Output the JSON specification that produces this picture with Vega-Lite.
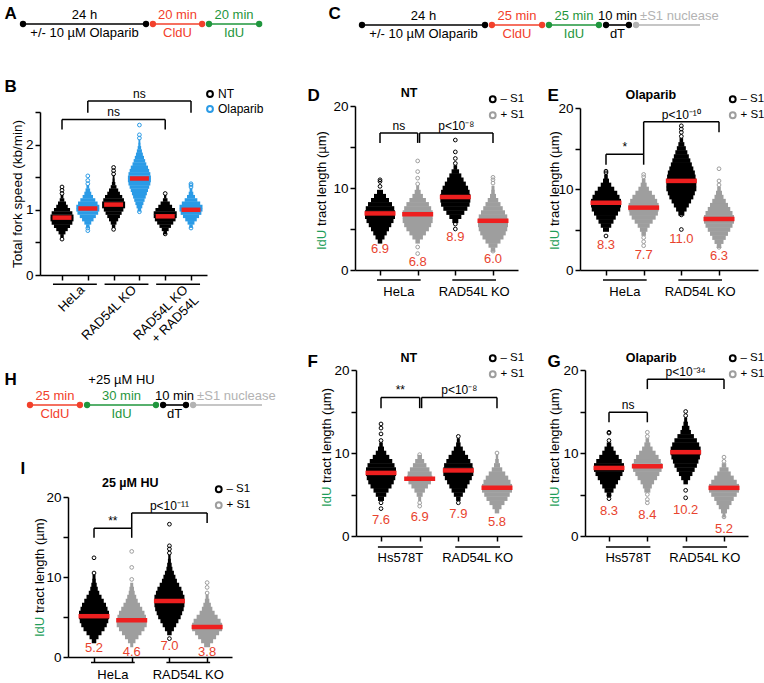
{
"$schema":"https://vega.github.io/schema/vega-lite/v6.json",
"width":764,"height":683,
"autosize":{"type":"none"},
"padding":0,
"config":{
 "view":{"stroke":null},
 "font":"Liberation Sans",
 "axis":{"domainColor":"#000","domainWidth":1.5,"tickColor":"#000","tickWidth":1.5,"tickSize":5,"labelColor":"#000","labelFontSize":13.5,"labelFont":"Liberation Sans","titleFont":"Liberation Sans","titleColor":"#000","grid":false,"labelPadding":2},
 "legend":{"labelFont":"Liberation Sans","labelFontSize":11.5,"labelColor":"#000","symbolType":"circle","symbolSize":34,"symbolStrokeWidth":2,"rowPadding":1,"padding":0,"labelOffset":2},
 "text":{"font":"Liberation Sans"}
},
"datasets":{
"sc":[
{"p":"A","x1":0,"x2":5,"c":"k","top":"24 h","bot":"+/- 10 µM Olaparib"},
{"p":"A","x1":5.28,"x2":7.28,"c":"r","top":"20 min","bot":"CldU"},
{"p":"A","x1":7.56,"x2":9.6,"c":"g","top":"20 min","bot":"IdU"},
{"p":"C","x1":0,"x2":5,"c":"k","top":"24 h","bot":"+/- 10 µM Olaparib"},
{"p":"C","x1":5.28,"x2":7.32,"c":"r","top":"25 min","bot":"CldU"},
{"p":"C","x1":7.6,"x2":9.63,"c":"g","top":"25 min","bot":"IdU"},
{"p":"C","x1":9.92,"x2":10.85,"c":"k","top":"10 min","bot":"dT"},
{"p":"C","x1":11.14,"x2":13.74,"c":"s","top":"±S1 nuclease","bot":""},
{"p":"H","x1":0,"x2":2.03,"c":"r","top":"25 min","bot":"CldU"},
{"p":"H","x1":2.32,"x2":5.12,"c":"g","top":"30 min","bot":"IdU","hu":"+25 µM HU"},
{"p":"H","x1":5.41,"x2":6.34,"c":"k","top":"10 min","bot":"dT"},
{"p":"H","x1":6.63,"x2":9.43,"c":"s","top":"±S1 nuclease","bot":""}
],
"sw":[
{"p":"B","x":1,"s":"a","y":0.6,"n":0.15},{"p":"B","x":1,"s":"a","y":0.65,"n":0.3},{"p":"B","x":1,"s":"a","y":0.7,"n":0.5},{"p":"B","x":1,"s":"a","y":0.75,"n":0.7},{"p":"B","x":1,"s":"a","y":0.8,"n":0.9},{"p":"B","x":1,"s":"a","y":0.85,"n":1},{"p":"B","x":1,"s":"a","y":0.9,"n":1},{"p":"B","x":1,"s":"a","y":0.95,"n":0.9},{"p":"B","x":1,"s":"a","y":1.0,"n":0.7},{"p":"B","x":1,"s":"a","y":1.05,"n":0.5},{"p":"B","x":1,"s":"a","y":1.1,"n":0.35},{"p":"B","x":1,"s":"a","y":1.15,"n":0.2},{"p":"B","x":1,"s":"a","y":1.2,"n":0.12},
{"p":"B","x":2,"s":"b","y":0.75,"n":0.15},{"p":"B","x":2,"s":"b","y":0.8,"n":0.3},{"p":"B","x":2,"s":"b","y":0.85,"n":0.5},{"p":"B","x":2,"s":"b","y":0.9,"n":0.7},{"p":"B","x":2,"s":"b","y":0.95,"n":0.9},{"p":"B","x":2,"s":"b","y":1.0,"n":1},{"p":"B","x":2,"s":"b","y":1.05,"n":1},{"p":"B","x":2,"s":"b","y":1.1,"n":0.85},{"p":"B","x":2,"s":"b","y":1.15,"n":0.65},{"p":"B","x":2,"s":"b","y":1.2,"n":0.45},{"p":"B","x":2,"s":"b","y":1.25,"n":0.3},{"p":"B","x":2,"s":"b","y":1.3,"n":0.2},{"p":"B","x":2,"s":"b","y":1.35,"n":0.12},
{"p":"B","x":3,"s":"a","y":0.75,"n":0.15},{"p":"B","x":3,"s":"a","y":0.8,"n":0.25},{"p":"B","x":3,"s":"a","y":0.85,"n":0.4},{"p":"B","x":3,"s":"a","y":0.9,"n":0.55},{"p":"B","x":3,"s":"a","y":0.95,"n":0.7},{"p":"B","x":3,"s":"a","y":1.0,"n":0.85},{"p":"B","x":3,"s":"a","y":1.05,"n":1},{"p":"B","x":3,"s":"a","y":1.1,"n":1},{"p":"B","x":3,"s":"a","y":1.15,"n":0.9},{"p":"B","x":3,"s":"a","y":1.2,"n":0.75},{"p":"B","x":3,"s":"a","y":1.25,"n":0.55},{"p":"B","x":3,"s":"a","y":1.3,"n":0.4},{"p":"B","x":3,"s":"a","y":1.35,"n":0.25},{"p":"B","x":3,"s":"a","y":1.4,"n":0.15},{"p":"B","x":3,"s":"a","y":1.45,"n":0.1},{"p":"B","x":3,"s":"a","y":1.5,"n":0.08},
{"p":"B","x":4,"s":"b","y":1.0,"n":0.15},{"p":"B","x":4,"s":"b","y":1.05,"n":0.25},{"p":"B","x":4,"s":"b","y":1.1,"n":0.35},{"p":"B","x":4,"s":"b","y":1.15,"n":0.45},{"p":"B","x":4,"s":"b","y":1.2,"n":0.55},{"p":"B","x":4,"s":"b","y":1.25,"n":0.65},{"p":"B","x":4,"s":"b","y":1.3,"n":0.75},{"p":"B","x":4,"s":"b","y":1.35,"n":0.85},{"p":"B","x":4,"s":"b","y":1.4,"n":0.95},{"p":"B","x":4,"s":"b","y":1.45,"n":1},{"p":"B","x":4,"s":"b","y":1.5,"n":1},{"p":"B","x":4,"s":"b","y":1.55,"n":0.95},{"p":"B","x":4,"s":"b","y":1.6,"n":0.85},{"p":"B","x":4,"s":"b","y":1.65,"n":0.75},{"p":"B","x":4,"s":"b","y":1.7,"n":0.6},{"p":"B","x":4,"s":"b","y":1.75,"n":0.5},{"p":"B","x":4,"s":"b","y":1.8,"n":0.4},{"p":"B","x":4,"s":"b","y":1.85,"n":0.3},{"p":"B","x":4,"s":"b","y":1.9,"n":0.22},{"p":"B","x":4,"s":"b","y":1.95,"n":0.15},{"p":"B","x":4,"s":"b","y":2.0,"n":0.1},{"p":"B","x":4,"s":"b","y":2.05,"n":0.08},
{"p":"B","x":5,"s":"a","y":0.65,"n":0.15},{"p":"B","x":5,"s":"a","y":0.7,"n":0.3},{"p":"B","x":5,"s":"a","y":0.75,"n":0.5},{"p":"B","x":5,"s":"a","y":0.8,"n":0.7},{"p":"B","x":5,"s":"a","y":0.85,"n":0.9},{"p":"B","x":5,"s":"a","y":0.9,"n":1},{"p":"B","x":5,"s":"a","y":0.95,"n":1},{"p":"B","x":5,"s":"a","y":1.0,"n":0.85},{"p":"B","x":5,"s":"a","y":1.05,"n":0.6},{"p":"B","x":5,"s":"a","y":1.1,"n":0.4},{"p":"B","x":5,"s":"a","y":1.15,"n":0.2},{"p":"B","x":5,"s":"a","y":1.2,"n":0.1},
{"p":"B","x":6,"s":"b","y":0.75,"n":0.15},{"p":"B","x":6,"s":"b","y":0.8,"n":0.3},{"p":"B","x":6,"s":"b","y":0.85,"n":0.5},{"p":"B","x":6,"s":"b","y":0.9,"n":0.7},{"p":"B","x":6,"s":"b","y":0.95,"n":0.9},{"p":"B","x":6,"s":"b","y":1.0,"n":1},{"p":"B","x":6,"s":"b","y":1.05,"n":1},{"p":"B","x":6,"s":"b","y":1.1,"n":0.8},{"p":"B","x":6,"s":"b","y":1.15,"n":0.55},{"p":"B","x":6,"s":"b","y":1.2,"n":0.35},{"p":"B","x":6,"s":"b","y":1.25,"n":0.2},{"p":"B","x":6,"s":"b","y":1.3,"n":0.12},
{"p":"D","x":1,"s":"a","y":3.5,"n":0.15},{"p":"D","x":1,"s":"a","y":4,"n":0.3},{"p":"D","x":1,"s":"a","y":4.5,"n":0.45},{"p":"D","x":1,"s":"a","y":5,"n":0.6},{"p":"D","x":1,"s":"a","y":5.5,"n":0.75},{"p":"D","x":1,"s":"a","y":6,"n":0.9},{"p":"D","x":1,"s":"a","y":6.5,"n":1},{"p":"D","x":1,"s":"a","y":7,"n":1},{"p":"D","x":1,"s":"a","y":7.5,"n":0.95},{"p":"D","x":1,"s":"a","y":8,"n":0.8},{"p":"D","x":1,"s":"a","y":8.5,"n":0.6},{"p":"D","x":1,"s":"a","y":9,"n":0.4},{"p":"D","x":1,"s":"a","y":9.5,"n":0.2},
{"p":"D","x":2,"s":"b","y":3.5,"n":0.15},{"p":"D","x":2,"s":"b","y":4,"n":0.35},{"p":"D","x":2,"s":"b","y":4.5,"n":0.55},{"p":"D","x":2,"s":"b","y":5,"n":0.75},{"p":"D","x":2,"s":"b","y":5.5,"n":0.9},{"p":"D","x":2,"s":"b","y":6,"n":1},{"p":"D","x":2,"s":"b","y":6.5,"n":1},{"p":"D","x":2,"s":"b","y":7,"n":1},{"p":"D","x":2,"s":"b","y":7.5,"n":0.9},{"p":"D","x":2,"s":"b","y":8,"n":0.75},{"p":"D","x":2,"s":"b","y":8.5,"n":0.55},{"p":"D","x":2,"s":"b","y":9,"n":0.35},{"p":"D","x":2,"s":"b","y":9.5,"n":0.2},{"p":"D","x":2,"s":"b","y":10,"n":0.1},
{"p":"D","x":3,"s":"a","y":6,"n":0.2},{"p":"D","x":3,"s":"a","y":6.5,"n":0.4},{"p":"D","x":3,"s":"a","y":7,"n":0.6},{"p":"D","x":3,"s":"a","y":7.5,"n":0.8},{"p":"D","x":3,"s":"a","y":8,"n":0.95},{"p":"D","x":3,"s":"a","y":8.5,"n":1},{"p":"D","x":3,"s":"a","y":9,"n":1},{"p":"D","x":3,"s":"a","y":9.5,"n":0.95},{"p":"D","x":3,"s":"a","y":10,"n":0.85},{"p":"D","x":3,"s":"a","y":10.5,"n":0.7},{"p":"D","x":3,"s":"a","y":11,"n":0.55},{"p":"D","x":3,"s":"a","y":11.5,"n":0.4},{"p":"D","x":3,"s":"a","y":12,"n":0.25},{"p":"D","x":3,"s":"a","y":12.5,"n":0.12},
{"p":"D","x":4,"s":"b","y":2.5,"n":0.15},{"p":"D","x":4,"s":"b","y":3,"n":0.3},{"p":"D","x":4,"s":"b","y":3.5,"n":0.5},{"p":"D","x":4,"s":"b","y":4,"n":0.7},{"p":"D","x":4,"s":"b","y":4.5,"n":0.85},{"p":"D","x":4,"s":"b","y":5,"n":0.95},{"p":"D","x":4,"s":"b","y":5.5,"n":1},{"p":"D","x":4,"s":"b","y":6,"n":1},{"p":"D","x":4,"s":"b","y":6.5,"n":0.95},{"p":"D","x":4,"s":"b","y":7,"n":0.8},{"p":"D","x":4,"s":"b","y":7.5,"n":0.65},{"p":"D","x":4,"s":"b","y":8,"n":0.5},{"p":"D","x":4,"s":"b","y":8.5,"n":0.35},{"p":"D","x":4,"s":"b","y":9,"n":0.2},{"p":"D","x":4,"s":"b","y":9.5,"n":0.12},{"p":"D","x":4,"s":"b","y":10,"n":0.1},
{"p":"E","x":1,"s":"a","y":5,"n":0.2},{"p":"E","x":1,"s":"a","y":5.5,"n":0.35},{"p":"E","x":1,"s":"a","y":6,"n":0.5},{"p":"E","x":1,"s":"a","y":6.5,"n":0.65},{"p":"E","x":1,"s":"a","y":7,"n":0.8},{"p":"E","x":1,"s":"a","y":7.5,"n":0.95},{"p":"E","x":1,"s":"a","y":8,"n":1},{"p":"E","x":1,"s":"a","y":8.5,"n":1},{"p":"E","x":1,"s":"a","y":9,"n":0.9},{"p":"E","x":1,"s":"a","y":9.5,"n":0.75},{"p":"E","x":1,"s":"a","y":10,"n":0.55},{"p":"E","x":1,"s":"a","y":10.5,"n":0.35},{"p":"E","x":1,"s":"a","y":11,"n":0.2},{"p":"E","x":1,"s":"a","y":11.5,"n":0.12},
{"p":"E","x":2,"s":"b","y":4.5,"n":0.15},{"p":"E","x":2,"s":"b","y":5,"n":0.25},{"p":"E","x":2,"s":"b","y":5.5,"n":0.4},{"p":"E","x":2,"s":"b","y":6,"n":0.6},{"p":"E","x":2,"s":"b","y":6.5,"n":0.8},{"p":"E","x":2,"s":"b","y":7,"n":0.95},{"p":"E","x":2,"s":"b","y":7.5,"n":1},{"p":"E","x":2,"s":"b","y":8,"n":1},{"p":"E","x":2,"s":"b","y":8.5,"n":0.9},{"p":"E","x":2,"s":"b","y":9,"n":0.75},{"p":"E","x":2,"s":"b","y":9.5,"n":0.55},{"p":"E","x":2,"s":"b","y":10,"n":0.35},{"p":"E","x":2,"s":"b","y":10.5,"n":0.2},{"p":"E","x":2,"s":"b","y":11,"n":0.12},
{"p":"E","x":3,"s":"a","y":7,"n":0.2},{"p":"E","x":3,"s":"a","y":7.5,"n":0.35},{"p":"E","x":3,"s":"a","y":8,"n":0.5},{"p":"E","x":3,"s":"a","y":8.5,"n":0.65},{"p":"E","x":3,"s":"a","y":9,"n":0.8},{"p":"E","x":3,"s":"a","y":9.5,"n":0.9},{"p":"E","x":3,"s":"a","y":10,"n":1},{"p":"E","x":3,"s":"a","y":10.5,"n":1},{"p":"E","x":3,"s":"a","y":11,"n":1},{"p":"E","x":3,"s":"a","y":11.5,"n":0.95},{"p":"E","x":3,"s":"a","y":12,"n":0.9},{"p":"E","x":3,"s":"a","y":12.5,"n":0.8},{"p":"E","x":3,"s":"a","y":13,"n":0.7},{"p":"E","x":3,"s":"a","y":13.5,"n":0.6},{"p":"E","x":3,"s":"a","y":14,"n":0.5},{"p":"E","x":3,"s":"a","y":14.5,"n":0.4},{"p":"E","x":3,"s":"a","y":15,"n":0.3},{"p":"E","x":3,"s":"a","y":15.5,"n":0.2},{"p":"E","x":3,"s":"a","y":16,"n":0.12},
{"p":"E","x":4,"s":"b","y":3,"n":0.15},{"p":"E","x":4,"s":"b","y":3.5,"n":0.3},{"p":"E","x":4,"s":"b","y":4,"n":0.45},{"p":"E","x":4,"s":"b","y":4.5,"n":0.6},{"p":"E","x":4,"s":"b","y":5,"n":0.75},{"p":"E","x":4,"s":"b","y":5.5,"n":0.9},{"p":"E","x":4,"s":"b","y":6,"n":1},{"p":"E","x":4,"s":"b","y":6.5,"n":1},{"p":"E","x":4,"s":"b","y":7,"n":0.9},{"p":"E","x":4,"s":"b","y":7.5,"n":0.75},{"p":"E","x":4,"s":"b","y":8,"n":0.6},{"p":"E","x":4,"s":"b","y":8.5,"n":0.45},{"p":"E","x":4,"s":"b","y":9,"n":0.3},{"p":"E","x":4,"s":"b","y":9.5,"n":0.2},{"p":"E","x":4,"s":"b","y":10,"n":0.12},
{"p":"F","x":1,"s":"a","y":4.5,"n":0.2},{"p":"F","x":1,"s":"a","y":5,"n":0.35},{"p":"F","x":1,"s":"a","y":5.5,"n":0.5},{"p":"F","x":1,"s":"a","y":6,"n":0.7},{"p":"F","x":1,"s":"a","y":6.5,"n":0.85},{"p":"F","x":1,"s":"a","y":7,"n":0.95},{"p":"F","x":1,"s":"a","y":7.5,"n":1},{"p":"F","x":1,"s":"a","y":8,"n":1},{"p":"F","x":1,"s":"a","y":8.5,"n":0.9},{"p":"F","x":1,"s":"a","y":9,"n":0.75},{"p":"F","x":1,"s":"a","y":9.5,"n":0.55},{"p":"F","x":1,"s":"a","y":10,"n":0.35},{"p":"F","x":1,"s":"a","y":10.5,"n":0.2},{"p":"F","x":1,"s":"a","y":11,"n":0.12},
{"p":"F","x":2,"s":"b","y":4.5,"n":0.1},{"p":"F","x":2,"s":"b","y":5,"n":0.2},{"p":"F","x":2,"s":"b","y":5.5,"n":0.35},{"p":"F","x":2,"s":"b","y":6,"n":0.55},{"p":"F","x":2,"s":"b","y":6.5,"n":0.75},{"p":"F","x":2,"s":"b","y":7,"n":0.85},{"p":"F","x":2,"s":"b","y":7.5,"n":0.8},{"p":"F","x":2,"s":"b","y":8,"n":0.65},{"p":"F","x":2,"s":"b","y":8.5,"n":0.45},{"p":"F","x":2,"s":"b","y":9,"n":0.3},{"p":"F","x":2,"s":"b","y":9.5,"n":0.15},
{"p":"F","x":3,"s":"a","y":4.5,"n":0.15},{"p":"F","x":3,"s":"a","y":5,"n":0.3},{"p":"F","x":3,"s":"a","y":5.5,"n":0.45},{"p":"F","x":3,"s":"a","y":6,"n":0.6},{"p":"F","x":3,"s":"a","y":6.5,"n":0.75},{"p":"F","x":3,"s":"a","y":7,"n":0.9},{"p":"F","x":3,"s":"a","y":7.5,"n":1},{"p":"F","x":3,"s":"a","y":8,"n":1},{"p":"F","x":3,"s":"a","y":8.5,"n":0.95},{"p":"F","x":3,"s":"a","y":9,"n":0.8},{"p":"F","x":3,"s":"a","y":9.5,"n":0.65},{"p":"F","x":3,"s":"a","y":10,"n":0.45},{"p":"F","x":3,"s":"a","y":10.5,"n":0.3},{"p":"F","x":3,"s":"a","y":11,"n":0.15},{"p":"F","x":3,"s":"a","y":11.5,"n":0.1},
{"p":"F","x":4,"s":"b","y":3,"n":0.15},{"p":"F","x":4,"s":"b","y":3.5,"n":0.3},{"p":"F","x":4,"s":"b","y":4,"n":0.5},{"p":"F","x":4,"s":"b","y":4.5,"n":0.7},{"p":"F","x":4,"s":"b","y":5,"n":0.85},{"p":"F","x":4,"s":"b","y":5.5,"n":1},{"p":"F","x":4,"s":"b","y":6,"n":1},{"p":"F","x":4,"s":"b","y":6.5,"n":0.9},{"p":"F","x":4,"s":"b","y":7,"n":0.75},{"p":"F","x":4,"s":"b","y":7.5,"n":0.55},{"p":"F","x":4,"s":"b","y":8,"n":0.35},{"p":"F","x":4,"s":"b","y":8.5,"n":0.2},{"p":"F","x":4,"s":"b","y":9,"n":0.12},{"p":"F","x":4,"s":"b","y":9.5,"n":0.08},
{"p":"G","x":1,"s":"a","y":5,"n":0.15},{"p":"G","x":1,"s":"a","y":5.5,"n":0.3},{"p":"G","x":1,"s":"a","y":6,"n":0.45},{"p":"G","x":1,"s":"a","y":6.5,"n":0.6},{"p":"G","x":1,"s":"a","y":7,"n":0.75},{"p":"G","x":1,"s":"a","y":7.5,"n":0.9},{"p":"G","x":1,"s":"a","y":8,"n":1},{"p":"G","x":1,"s":"a","y":8.5,"n":1},{"p":"G","x":1,"s":"a","y":9,"n":0.85},{"p":"G","x":1,"s":"a","y":9.5,"n":0.65},{"p":"G","x":1,"s":"a","y":10,"n":0.45},{"p":"G","x":1,"s":"a","y":10.5,"n":0.3},{"p":"G","x":1,"s":"a","y":11,"n":0.15},
{"p":"G","x":2,"s":"b","y":5.5,"n":0.2},{"p":"G","x":2,"s":"b","y":6,"n":0.3},{"p":"G","x":2,"s":"b","y":6.5,"n":0.45},{"p":"G","x":2,"s":"b","y":7,"n":0.65},{"p":"G","x":2,"s":"b","y":7.5,"n":0.8},{"p":"G","x":2,"s":"b","y":8,"n":0.95},{"p":"G","x":2,"s":"b","y":8.5,"n":1},{"p":"G","x":2,"s":"b","y":9,"n":0.9},{"p":"G","x":2,"s":"b","y":9.5,"n":0.75},{"p":"G","x":2,"s":"b","y":10,"n":0.55},{"p":"G","x":2,"s":"b","y":10.5,"n":0.35},{"p":"G","x":2,"s":"b","y":11,"n":0.2},{"p":"G","x":2,"s":"b","y":11.5,"n":0.12},
{"p":"G","x":3,"s":"a","y":6.5,"n":0.15},{"p":"G","x":3,"s":"a","y":7,"n":0.3},{"p":"G","x":3,"s":"a","y":7.5,"n":0.45},{"p":"G","x":3,"s":"a","y":8,"n":0.6},{"p":"G","x":3,"s":"a","y":8.5,"n":0.75},{"p":"G","x":3,"s":"a","y":9,"n":0.85},{"p":"G","x":3,"s":"a","y":9.5,"n":0.95},{"p":"G","x":3,"s":"a","y":10,"n":1},{"p":"G","x":3,"s":"a","y":10.5,"n":1},{"p":"G","x":3,"s":"a","y":11,"n":0.9},{"p":"G","x":3,"s":"a","y":11.5,"n":0.75},{"p":"G","x":3,"s":"a","y":12,"n":0.55},{"p":"G","x":3,"s":"a","y":12.5,"n":0.35},{"p":"G","x":3,"s":"a","y":13,"n":0.25},{"p":"G","x":3,"s":"a","y":13.5,"n":0.15},{"p":"G","x":3,"s":"a","y":14,"n":0.1},
{"p":"G","x":4,"s":"b","y":2.5,"n":0.1},{"p":"G","x":4,"s":"b","y":3,"n":0.2},{"p":"G","x":4,"s":"b","y":3.5,"n":0.35},{"p":"G","x":4,"s":"b","y":4,"n":0.5},{"p":"G","x":4,"s":"b","y":4.5,"n":0.65},{"p":"G","x":4,"s":"b","y":5,"n":0.85},{"p":"G","x":4,"s":"b","y":5.5,"n":1},{"p":"G","x":4,"s":"b","y":6,"n":1},{"p":"G","x":4,"s":"b","y":6.5,"n":0.85},{"p":"G","x":4,"s":"b","y":7,"n":0.65},{"p":"G","x":4,"s":"b","y":7.5,"n":0.45},{"p":"G","x":4,"s":"b","y":8,"n":0.3},{"p":"G","x":4,"s":"b","y":8.5,"n":0.15},
{"p":"I","x":1,"s":"a","y":2,"n":0.15},{"p":"I","x":1,"s":"a","y":2.5,"n":0.3},{"p":"I","x":1,"s":"a","y":3,"n":0.5},{"p":"I","x":1,"s":"a","y":3.5,"n":0.7},{"p":"I","x":1,"s":"a","y":4,"n":0.85},{"p":"I","x":1,"s":"a","y":4.5,"n":0.95},{"p":"I","x":1,"s":"a","y":5,"n":1},{"p":"I","x":1,"s":"a","y":5.5,"n":1},{"p":"I","x":1,"s":"a","y":6,"n":0.9},{"p":"I","x":1,"s":"a","y":6.5,"n":0.8},{"p":"I","x":1,"s":"a","y":7,"n":0.65},{"p":"I","x":1,"s":"a","y":7.5,"n":0.5},{"p":"I","x":1,"s":"a","y":8,"n":0.35},{"p":"I","x":1,"s":"a","y":8.5,"n":0.25},{"p":"I","x":1,"s":"a","y":9,"n":0.18},{"p":"I","x":1,"s":"a","y":9.5,"n":0.12},{"p":"I","x":1,"s":"a","y":10,"n":0.1},
{"p":"I","x":2,"s":"b","y":1.5,"n":0.1},{"p":"I","x":2,"s":"b","y":2,"n":0.25},{"p":"I","x":2,"s":"b","y":2.5,"n":0.45},{"p":"I","x":2,"s":"b","y":3,"n":0.65},{"p":"I","x":2,"s":"b","y":3.5,"n":0.85},{"p":"I","x":2,"s":"b","y":4,"n":1},{"p":"I","x":2,"s":"b","y":4.5,"n":1},{"p":"I","x":2,"s":"b","y":5,"n":0.95},{"p":"I","x":2,"s":"b","y":5.5,"n":0.85},{"p":"I","x":2,"s":"b","y":6,"n":0.7},{"p":"I","x":2,"s":"b","y":6.5,"n":0.55},{"p":"I","x":2,"s":"b","y":7,"n":0.4},{"p":"I","x":2,"s":"b","y":7.5,"n":0.3},{"p":"I","x":2,"s":"b","y":8,"n":0.2},{"p":"I","x":2,"s":"b","y":8.5,"n":0.15},{"p":"I","x":2,"s":"b","y":9,"n":0.1},
{"p":"I","x":3,"s":"a","y":3,"n":0.15},{"p":"I","x":3,"s":"a","y":3.5,"n":0.3},{"p":"I","x":3,"s":"a","y":4,"n":0.45},{"p":"I","x":3,"s":"a","y":4.5,"n":0.6},{"p":"I","x":3,"s":"a","y":5,"n":0.75},{"p":"I","x":3,"s":"a","y":5.5,"n":0.85},{"p":"I","x":3,"s":"a","y":6,"n":0.95},{"p":"I","x":3,"s":"a","y":6.5,"n":1},{"p":"I","x":3,"s":"a","y":7,"n":1},{"p":"I","x":3,"s":"a","y":7.5,"n":1},{"p":"I","x":3,"s":"a","y":8,"n":0.9},{"p":"I","x":3,"s":"a","y":8.5,"n":0.8},{"p":"I","x":3,"s":"a","y":9,"n":0.65},{"p":"I","x":3,"s":"a","y":9.5,"n":0.5},{"p":"I","x":3,"s":"a","y":10,"n":0.4},{"p":"I","x":3,"s":"a","y":10.5,"n":0.3},{"p":"I","x":3,"s":"a","y":11,"n":0.2},{"p":"I","x":3,"s":"a","y":11.5,"n":0.15},{"p":"I","x":3,"s":"a","y":12,"n":0.1},{"p":"I","x":3,"s":"a","y":12.5,"n":0.08},
{"p":"I","x":4,"s":"b","y":1.5,"n":0.2},{"p":"I","x":4,"s":"b","y":2,"n":0.4},{"p":"I","x":4,"s":"b","y":2.5,"n":0.6},{"p":"I","x":4,"s":"b","y":3,"n":0.8},{"p":"I","x":4,"s":"b","y":3.5,"n":1},{"p":"I","x":4,"s":"b","y":4,"n":1},{"p":"I","x":4,"s":"b","y":4.5,"n":0.9},{"p":"I","x":4,"s":"b","y":5,"n":0.7},{"p":"I","x":4,"s":"b","y":5.5,"n":0.5},{"p":"I","x":4,"s":"b","y":6,"n":0.35},{"p":"I","x":4,"s":"b","y":6.5,"n":0.25},{"p":"I","x":4,"s":"b","y":7,"n":0.15},{"p":"I","x":4,"s":"b","y":7.5,"n":0.1}
],
"pt":[
{"p":"B","x":1,"s":"a","y":0.55},{"p":"B","x":1,"s":"a","y":1.25},{"p":"B","x":1,"s":"a","y":1.3},{"p":"B","x":1,"s":"a","y":1.35},
{"p":"B","x":2,"s":"b","y":0.68},{"p":"B","x":2,"s":"b","y":0.72},{"p":"B","x":2,"s":"b","y":1.4},{"p":"B","x":2,"s":"b","y":1.45},{"p":"B","x":2,"s":"b","y":1.52},
{"p":"B","x":3,"s":"a","y":0.7},{"p":"B","x":3,"s":"a","y":1.55},{"p":"B","x":3,"s":"a","y":1.6},{"p":"B","x":3,"s":"a","y":1.65},
{"p":"B","x":4,"s":"b","y":0.97},{"p":"B","x":4,"s":"b","y":2.1},{"p":"B","x":4,"s":"b","y":2.15},{"p":"B","x":4,"s":"b","y":2.3},
{"p":"B","x":5,"s":"a","y":0.63},{"p":"B","x":5,"s":"a","y":1.25},
{"p":"B","x":6,"s":"b","y":0.72},{"p":"B","x":6,"s":"b","y":1.35},{"p":"B","x":6,"s":"b","y":1.38},{"p":"B","x":6,"s":"b","y":1.4},
{"p":"D","x":1,"s":"a","y":10.2},{"p":"D","x":1,"s":"a","y":10.8},{"p":"D","x":1,"s":"a","y":11.0},
{"p":"D","x":2,"s":"b","y":2.0},{"p":"D","x":2,"s":"b","y":2.8},{"p":"D","x":2,"s":"b","y":10.5},{"p":"D","x":2,"s":"b","y":11.2},{"p":"D","x":2,"s":"b","y":12.0},{"p":"D","x":2,"s":"b","y":13.3},
{"p":"D","x":3,"s":"a","y":5.0},{"p":"D","x":3,"s":"a","y":5.6},{"p":"D","x":3,"s":"a","y":13.0},{"p":"D","x":3,"s":"a","y":13.6},{"p":"D","x":3,"s":"a","y":14.4},{"p":"D","x":3,"s":"a","y":15.85},
{"p":"D","x":4,"s":"b","y":2.3},{"p":"D","x":4,"s":"b","y":10.6},{"p":"D","x":4,"s":"b","y":11.0},{"p":"D","x":4,"s":"b","y":11.3},
{"p":"E","x":1,"s":"a","y":4.2},{"p":"E","x":1,"s":"a","y":12.0},{"p":"E","x":1,"s":"a","y":12.2},
{"p":"E","x":2,"s":"b","y":3.0},{"p":"E","x":2,"s":"b","y":3.5},{"p":"E","x":2,"s":"b","y":4.0},{"p":"E","x":2,"s":"b","y":11.5},{"p":"E","x":2,"s":"b","y":11.8},
{"p":"E","x":3,"s":"a","y":5.0},{"p":"E","x":3,"s":"a","y":6.8},{"p":"E","x":3,"s":"a","y":16.5},{"p":"E","x":3,"s":"a","y":17.0},{"p":"E","x":3,"s":"a","y":17.4},{"p":"E","x":3,"s":"a","y":17.8},
{"p":"E","x":4,"s":"b","y":2.8},{"p":"E","x":4,"s":"b","y":10.5},{"p":"E","x":4,"s":"b","y":11.0},{"p":"E","x":4,"s":"b","y":12.5},
{"p":"F","x":1,"s":"a","y":3.3},{"p":"F","x":1,"s":"a","y":4.0},{"p":"F","x":1,"s":"a","y":11.5},{"p":"F","x":1,"s":"a","y":12.3},{"p":"F","x":1,"s":"a","y":13.0},{"p":"F","x":1,"s":"a","y":13.5},
{"p":"F","x":2,"s":"b","y":3.6},{"p":"F","x":2,"s":"b","y":4.0},{"p":"F","x":2,"s":"b","y":9.8},
{"p":"F","x":3,"s":"a","y":4.0},{"p":"F","x":3,"s":"a","y":12.0},
{"p":"F","x":4,"s":"b","y":10.0},
{"p":"G","x":1,"s":"a","y":4.5},{"p":"G","x":1,"s":"a","y":4.9},{"p":"G","x":1,"s":"a","y":11.5},{"p":"G","x":1,"s":"a","y":12.4},{"p":"G","x":1,"s":"a","y":12.5},
{"p":"G","x":2,"s":"b","y":4.0},{"p":"G","x":2,"s":"b","y":4.4},{"p":"G","x":2,"s":"b","y":5.0},{"p":"G","x":2,"s":"b","y":12.0},{"p":"G","x":2,"s":"b","y":12.5},
{"p":"G","x":3,"s":"a","y":4.6},{"p":"G","x":3,"s":"a","y":5.5},{"p":"G","x":3,"s":"a","y":14.5},{"p":"G","x":3,"s":"a","y":15.0},
{"p":"G","x":4,"s":"b","y":2.3},{"p":"G","x":4,"s":"b","y":9.0},{"p":"G","x":4,"s":"b","y":9.5},
{"p":"I","x":1,"s":"a","y":10.5},{"p":"I","x":1,"s":"a","y":12.4},
{"p":"I","x":2,"s":"b","y":9.7},{"p":"I","x":2,"s":"b","y":11.2},{"p":"I","x":2,"s":"b","y":13.2},
{"p":"I","x":3,"s":"a","y":2.3},{"p":"I","x":3,"s":"a","y":13.0},{"p":"I","x":3,"s":"a","y":13.5},{"p":"I","x":3,"s":"a","y":13.9},{"p":"I","x":3,"s":"a","y":16.6},
{"p":"I","x":4,"s":"b","y":8.0},{"p":"I","x":4,"s":"b","y":8.7},{"p":"I","x":4,"s":"b","y":9.3}
],
"md":[
{"p":"B","x":1,"m":0.88},{"p":"B","x":2,"m":1.02},{"p":"B","x":3,"m":1.08},{"p":"B","x":4,"m":1.48},{"p":"B","x":5,"m":0.9},{"p":"B","x":6,"m":1.0},
{"p":"D","x":1,"m":6.9,"lab":"6.9","lo":3.5},{"p":"D","x":2,"m":6.8,"lab":"6.8","lo":2.0},{"p":"D","x":3,"m":8.9,"lab":"8.9","lo":5.0},{"p":"D","x":4,"m":6.0,"lab":"6.0","lo":2.3},
{"p":"E","x":1,"m":8.3,"lab":"8.3","lo":4.2},{"p":"E","x":2,"m":7.7,"lab":"7.7","lo":3.0},{"p":"E","x":3,"m":11.0,"lab":"11.0","lo":5.0},{"p":"E","x":4,"m":6.3,"lab":"6.3","lo":2.8},
{"p":"F","x":1,"m":7.6,"lab":"7.6","lo":3.3},{"p":"F","x":2,"m":6.9,"lab":"6.9","lo":3.6},{"p":"F","x":3,"m":7.9,"lab":"7.9","lo":4.0},{"p":"F","x":4,"m":5.8,"lab":"5.8","lo":3.0},
{"p":"G","x":1,"m":8.2,"lab":"8.3","lo":4.5},{"p":"G","x":2,"m":8.4,"lab":"8.4","lo":4.0},{"p":"G","x":3,"m":10.1,"lab":"10.2","lo":4.6},{"p":"G","x":4,"m":5.8,"lab":"5.2","lo":2.3},
{"p":"I","x":1,"m":5.1,"lab":"5.2","lo":2.0},{"p":"I","x":2,"m":4.6,"lab":"4.6","lo":1.5},{"p":"I","x":3,"m":7.0,"lab":"7.0","lo":2.3},{"p":"I","x":4,"m":3.75,"lab":"3.8","lo":1.5}
],
"br":[
{"p":"B","x1":1,"x2":5,"y":2.385,"yl":2.23,"yr":2.23,"t":"ns"},
{"p":"B","x1":2,"x2":6,"y":2.67,"yl":2.49,"yr":2.49,"t":"ns"},
{"p":"D","x1":1,"x2":2,"y":16.7,"yl":15.5,"yr":15.5,"t":"ns"},
{"p":"D","x1":2.05,"x2":4,"y":16.7,"yl":15.5,"yr":15.5,"t":"p<10⁻⁸"},
{"p":"E","x1":1,"x2":2,"y":14.3,"yl":13,"yr":13,"t":"*"},
{"p":"E","x1":2,"x2":4,"y":18.3,"yl":14.3,"yr":17,"t":"p<10⁻¹⁰"},
{"p":"F","x1":1,"x2":2,"y":16.7,"yl":15.4,"yr":15.4,"t":"**"},
{"p":"F","x1":2.05,"x2":4,"y":16.7,"yl":15.4,"yr":15.4,"t":"p<10⁻⁸"},
{"p":"G","x1":1,"x2":2,"y":14.9,"yl":13.7,"yr":13.7,"t":"ns"},
{"p":"G","x1":2,"x2":4,"y":18.9,"yl":17.7,"yr":17.7,"t":"p<10⁻³⁴"},
{"p":"I","x1":1,"x2":2,"y":16.1,"yl":14.9,"yr":14.9,"t":"**"},
{"p":"I","x1":2,"x2":4,"y":18,"yl":16.1,"yr":16.75,"t":"p<10⁻¹¹"}
],
"gl":[
{"p":"B","x1":0.65,"x2":2.35,"t":"HeLa"},{"p":"B","x1":2.65,"x2":4.35,"t":"RAD54L KO"},{"p":"B","x1":4.65,"x2":6.35,"t":"RAD54L KO\n+ RAD54L"},
{"p":"D","x1":0.92,"x2":2.08,"t":"HeLa"},{"p":"D","x1":2.92,"x2":4.08,"t":"RAD54L KO"},
{"p":"E","x1":0.92,"x2":2.08,"t":"HeLa"},{"p":"E","x1":2.92,"x2":4.08,"t":"RAD54L KO"},
{"p":"F","x1":0.92,"x2":2.08,"t":"Hs578T"},{"p":"F","x1":2.92,"x2":4.08,"t":"RAD54L KO"},
{"p":"G","x1":0.92,"x2":2.08,"t":"Hs578T"},{"p":"G","x1":2.92,"x2":4.08,"t":"RAD54L KO"},
{"p":"I","x1":0.92,"x2":2.08,"t":"HeLa"},{"p":"I","x1":2.92,"x2":4.08,"t":"RAD54L KO"}
]
},
"resolve":{"scale":{"x":"independent","y":"independent","color":"independent","size":"independent"}},
"layer":[
{"layer":[
 {"data":{"name":"sc"},"transform":[{"filter":"datum.p=='A'"}],"mark":{"type":"rule","strokeWidth":1.6},
  "encoding":{"x":{"field":"x1","type":"quantitative","scale":{"domain":[0,10],"range":[23,269],"nice":false,"zero":false},"axis":{"orient":"bottom","offset":-650,"domain":false,"ticks":false,"labels":false,"title":"A","titleX":4,"titleY":-15,"titleAlign":"left","titleBaseline":"alphabetic","titleAngle":0,"titleFontSize":17,"titleFontWeight":"bold"}},
   "x2":{"field":"x2"},"y":{"datum":0.5,"type":"quantitative","scale":{"domain":[0,1],"range":[33,15],"nice":false,"zero":false},"axis":null},
   "color":{"field":"c","type":"nominal","scale":{"domain":["k","r","g","s"],"range":["#000000","#f2402b","#1f963d","#b3b3b3"]},"legend":null}}},
 {"data":{"name":"sc"},"transform":[{"filter":"datum.p=='A'"}],"mark":{"type":"point","filled":true,"size":40,"opacity":1},"encoding":{"x":{"field":"x1","type":"quantitative"},"y":{"datum":0.5},"color":{"field":"c","type":"nominal"}}},
 {"data":{"name":"sc"},"transform":[{"filter":"datum.p=='A' && datum.c!='s'"}],"mark":{"type":"point","filled":true,"size":40,"opacity":1},"encoding":{"x":{"field":"x2","type":"quantitative"},"y":{"datum":0.5},"color":{"field":"c","type":"nominal"}}},
 {"data":{"name":"sc"},"transform":[{"filter":"datum.p=='A' && datum.c!='s'"},{"calculate":"(datum.x1+datum.x2)/2","as":"xm"}],"mark":{"type":"text","fontSize":13,"baseline":"middle"},"encoding":{"x":{"field":"xm","type":"quantitative"},"y":{"datum":1},"text":{"field":"top"},"color":{"field":"c","type":"nominal"}}},
 {"data":{"name":"sc"},"transform":[{"filter":"datum.p=='A'"},{"calculate":"(datum.x1+datum.x2)/2","as":"xm"}],"mark":{"type":"text","fontSize":13,"baseline":"middle"},"encoding":{"x":{"field":"xm","type":"quantitative"},"y":{"datum":0},"text":{"field":"bot"},"color":{"field":"c","type":"nominal"}}}
]},
{"layer":[
 {"data":{"name":"sc"},"transform":[{"filter":"datum.p=='C'"}],"mark":{"type":"rule","strokeWidth":1.6},
  "encoding":{"x":{"field":"x1","type":"quantitative","scale":{"domain":[0,15],"range":[362,731],"nice":false,"zero":false},"axis":{"orient":"bottom","offset":-649,"domain":false,"ticks":false,"labels":false,"title":"C","titleX":328,"titleY":-16,"titleAlign":"left","titleBaseline":"alphabetic","titleAngle":0,"titleFontSize":17,"titleFontWeight":"bold"}},
   "x2":{"field":"x2"},"y":{"datum":0.5,"type":"quantitative","scale":{"domain":[0,1],"range":[34,16],"nice":false,"zero":false},"axis":null},
   "color":{"field":"c","type":"nominal","scale":{"domain":["k","r","g","s"],"range":["#000000","#f2402b","#1f963d","#b3b3b3"]},"legend":null}}},
 {"data":{"name":"sc"},"transform":[{"filter":"datum.p=='C'"}],"mark":{"type":"point","filled":true,"size":40,"opacity":1},"encoding":{"x":{"field":"x1","type":"quantitative"},"y":{"datum":0.5},"color":{"field":"c","type":"nominal"}}},
 {"data":{"name":"sc"},"transform":[{"filter":"datum.p=='C' && datum.c!='s'"}],"mark":{"type":"point","filled":true,"size":40,"opacity":1},"encoding":{"x":{"field":"x2","type":"quantitative"},"y":{"datum":0.5},"color":{"field":"c","type":"nominal"}}},
 {"data":{"name":"sc"},"transform":[{"filter":"datum.p=='C' && datum.c!='s'"},{"calculate":"(datum.x1+datum.x2)/2","as":"xm"}],"mark":{"type":"text","fontSize":13,"baseline":"middle"},"encoding":{"x":{"field":"xm","type":"quantitative"},"y":{"datum":1},"text":{"field":"top"},"color":{"field":"c","type":"nominal"}}},
 {"data":{"name":"sc"},"transform":[{"filter":"datum.p=='C' && datum.c=='s'"}],"mark":{"type":"text","fontSize":13,"baseline":"middle","align":"left","dx":4},"encoding":{"x":{"field":"x1","type":"quantitative"},"y":{"datum":1},"text":{"field":"top"},"color":{"field":"c","type":"nominal"}}},
 {"data":{"name":"sc"},"transform":[{"filter":"datum.p=='C'"},{"calculate":"(datum.x1+datum.x2)/2","as":"xm"}],"mark":{"type":"text","fontSize":13,"baseline":"middle"},"encoding":{"x":{"field":"xm","type":"quantitative"},"y":{"datum":0},"text":{"field":"bot"},"color":{"field":"c","type":"nominal"}}}
]},
{"layer":[
 {"data":{"name":"sc"},"transform":[{"filter":"datum.p=='H'"}],"mark":{"type":"rule","strokeWidth":1.6},
  "encoding":{"x":{"field":"x1","type":"quantitative","scale":{"domain":[0,10],"range":[30,276],"nice":false,"zero":false},"axis":{"orient":"bottom","offset":-269,"domain":false,"ticks":false,"labels":false,"title":"H","titleX":4,"titleY":-30,"titleAlign":"left","titleBaseline":"alphabetic","titleAngle":0,"titleFontSize":17,"titleFontWeight":"bold"}},
   "x2":{"field":"x2"},"y":{"datum":0.5,"type":"quantitative","scale":{"domain":[0,1],"range":[414,396],"nice":false,"zero":false},"axis":null},
   "color":{"field":"c","type":"nominal","scale":{"domain":["k","r","g","s"],"range":["#000000","#f2402b","#1f963d","#b3b3b3"]},"legend":null}}},
 {"data":{"name":"sc"},"transform":[{"filter":"datum.p=='H'"}],"mark":{"type":"point","filled":true,"size":40,"opacity":1},"encoding":{"x":{"field":"x1","type":"quantitative"},"y":{"datum":0.5},"color":{"field":"c","type":"nominal"}}},
 {"data":{"name":"sc"},"transform":[{"filter":"datum.p=='H' && datum.c!='s'"}],"mark":{"type":"point","filled":true,"size":40,"opacity":1},"encoding":{"x":{"field":"x2","type":"quantitative"},"y":{"datum":0.5},"color":{"field":"c","type":"nominal"}}},
 {"data":{"name":"sc"},"transform":[{"filter":"datum.p=='H' && datum.c!='s'"},{"calculate":"(datum.x1+datum.x2)/2","as":"xm"}],"mark":{"type":"text","fontSize":13,"baseline":"middle"},"encoding":{"x":{"field":"xm","type":"quantitative"},"y":{"datum":1},"text":{"field":"top"},"color":{"field":"c","type":"nominal"}}},
 {"data":{"name":"sc"},"transform":[{"filter":"datum.p=='H' && datum.c=='s'"}],"mark":{"type":"text","fontSize":13,"baseline":"middle","align":"left","dx":4},"encoding":{"x":{"field":"x1","type":"quantitative"},"y":{"datum":1},"text":{"field":"top"},"color":{"field":"c","type":"nominal"}}},
 {"data":{"name":"sc"},"transform":[{"filter":"datum.p=='H' && datum.hu"},{"calculate":"(datum.x1+datum.x2)/2","as":"xm"}],"mark":{"type":"text","fontSize":13,"baseline":"middle","color":"#000"},"encoding":{"x":{"field":"xm","type":"quantitative"},"y":{"datum":1.9},"text":{"field":"hu"}}},
 {"data":{"name":"sc"},"transform":[{"filter":"datum.p=='H'"},{"calculate":"(datum.x1+datum.x2)/2","as":"xm"}],"mark":{"type":"text","fontSize":13,"baseline":"middle"},"encoding":{"x":{"field":"xm","type":"quantitative"},"y":{"datum":0},"text":{"field":"bot"},"color":{"field":"c","type":"nominal"}}}
]},
{"layer":[
 {"data":{"name":"sw"},"transform":[{"filter":"datum.p=='B'"}],"mark":{"type":"tick","orient":"horizontal","thickness":3.6,"opacity":1},
  "encoding":{"x":{"field":"x","type":"quantitative","scale":{"domain":[0.147,6.62],"range":[40,207],"nice":false,"zero":false},"axis":{"orient":"bottom","offset":-408,"values":[1,2,3,4,5,6],"labels":false,"title":"B","titleX":4,"titleY":-184,"titleAlign":"left","titleBaseline":"alphabetic","titleAngle":0,"titleFontSize":17,"titleFontWeight":"bold"}},
   "y":{"field":"y","type":"quantitative","scale":{"domain":[0,2.5],"range":[275,112],"nice":false,"zero":false},"axis":{"orient":"left","offset":-40,"values":[0,0.5,1,1.5,2,2.5],"format":"~g","labelExpr":"datum.value % 1 == 0 ? datum.label : ''","title":"Total fork speed (kb/min)","titleX":-23,"titleY":193.5,"titleAngle":270,"titleAlign":"center","titleBaseline":"middle","titleFontSize":13.5,"titleFontWeight":"normal"}},
   "size":{"field":"n","type":"quantitative","scale":{"domain":[0,1],"range":[0,23]},"legend":null},
   "color":{"condition":{"test":"datum.s=='a'","value":"#000000"},"value":"#2b9be6"}}},
 {"data":{"name":"pt"},"transform":[{"filter":"datum.p=='B'"}],"mark":{"type":"point","filled":false,"size":14,"strokeWidth":1,"opacity":1},
  "encoding":{"x":{"field":"x","type":"quantitative"},"y":{"field":"y","type":"quantitative"},"color":{"field":"s","type":"nominal","scale":{"domain":["a","b"],"range":["#000000","#2b9be6"]},"legend":{"orient":"none","legendX":204,"legendY":88,"title":null,"labelFontSize":12,"labelExpr":"datum.label == 'a' ? 'NT' : 'Olaparib'"}}}},
 {"data":{"name":"md"},"transform":[{"filter":"datum.p=='B'"}],"mark":{"type":"tick","orient":"horizontal","thickness":4.5,"size":19,"color":"#ee1f1f","opacity":1},"encoding":{"x":{"field":"x","type":"quantitative"},"y":{"field":"m","type":"quantitative"}}},
 {"data":{"name":"br"},"transform":[{"filter":"datum.p=='B'"}],"mark":{"type":"rule","strokeWidth":1.5,"color":"#000"},"encoding":{"x":{"field":"x1","type":"quantitative"},"x2":{"field":"x2"},"y":{"field":"y","type":"quantitative"}}},
 {"data":{"name":"br"},"transform":[{"filter":"datum.p=='B'"}],"mark":{"type":"rule","strokeWidth":1.5,"color":"#000"},"encoding":{"x":{"field":"x1","type":"quantitative"},"y":{"field":"y","type":"quantitative"},"y2":{"field":"yl"}}},
 {"data":{"name":"br"},"transform":[{"filter":"datum.p=='B'"}],"mark":{"type":"rule","strokeWidth":1.5,"color":"#000"},"encoding":{"x":{"field":"x2","type":"quantitative"},"y":{"field":"y","type":"quantitative"},"y2":{"field":"yr"}}},
 {"data":{"name":"br"},"transform":[{"filter":"datum.p=='B'"},{"calculate":"(datum.x1+datum.x2)/2","as":"xm"}],"mark":{"type":"text","fontSize":12,"baseline":"middle","dy":-7,"color":"#000"},"encoding":{"x":{"field":"xm","type":"quantitative"},"y":{"field":"y","type":"quantitative"},"text":{"field":"t"}}},
 {"data":{"name":"gl"},"transform":[{"filter":"datum.p=='B'"}],"mark":{"type":"rule","strokeWidth":1.5,"color":"#000"},"encoding":{"x":{"field":"x1","type":"quantitative"},"x2":{"field":"x2"},"y":{"datum":-0.14}}},
 {"data":{"name":"gl"},"transform":[{"filter":"datum.p=='B'"},{"calculate":"(datum.x1+datum.x2)/2","as":"xm"}],"mark":{"type":"text","fontSize":13,"angle":315,"align":"right","baseline":"top","lineBreak":"\n","dx":5.7,"dy":-0.8,"color":"#000"},"encoding":{"x":{"field":"xm","type":"quantitative"},"y":{"datum":-0.2},"text":{"field":"t"}}}
]},
{"layer":[
 {"data":{"name":"sw"},"transform":[{"filter":"datum.p=='D'"}],"mark":{"type":"tick","orient":"horizontal","thickness":4.6,"opacity":1},
  "encoding":{"x":{"field":"x","type":"quantitative","scale":{"domain":[0.336,4.664],"range":[355,518],"nice":false,"zero":false},"axis":{"orient":"bottom","offset":-413,"values":[1,2,3,4],"labels":false,"title":"D","titleX":307,"titleY":-170,"titleAlign":"left","titleBaseline":"alphabetic","titleAngle":0,"titleFontSize":17,"titleFontWeight":"bold"}},
   "y":{"field":"y","type":"quantitative","scale":{"domain":[0,20],"range":[270,106],"nice":false,"zero":false},"axis":{"orient":"left","offset":-355,"values":[0,5,10,15,20],"format":"d","labelExpr":"datum.value % 10 == 0 ? datum.label : ''","title":null}},
   "size":{"field":"n","type":"quantitative","scale":{"domain":[0,1],"range":[0,30]},"legend":null},
   "color":{"condition":{"test":"datum.s=='a'","value":"#000000"},"value":"#9e9e9e"}}},
 {"data":{"name":"pt"},"transform":[{"filter":"datum.p=='D'"}],"mark":{"type":"point","filled":false,"size":14,"strokeWidth":1,"opacity":1},
  "encoding":{"x":{"field":"x","type":"quantitative"},"y":{"field":"y","type":"quantitative"},"color":{"field":"s","type":"nominal","scale":{"domain":["a","b"],"range":["#000000","#9e9e9e"]},"legend":{"orient":"none","legendX":487,"legendY":93.5,"title":null,"labelExpr":"datum.label == 'a' ? '– S1' : '+ S1'"}}}},
 {"data":{"name":"md"},"transform":[{"filter":"datum.p=='D'"}],"mark":{"type":"tick","orient":"horizontal","thickness":4.5,"size":31,"color":"#ee1f1f","opacity":1},"encoding":{"x":{"field":"x","type":"quantitative"},"y":{"field":"m","type":"quantitative"}}},
 {"data":{"name":"md"},"transform":[{"filter":"datum.p=='D'"}],"mark":{"type":"text","color":"#e8432e","fontSize":13,"baseline":"top","dy":2},"encoding":{"x":{"field":"x","type":"quantitative"},"y":{"field":"lo","type":"quantitative"},"text":{"field":"lab"}}},
 {"data":{"name":"br"},"transform":[{"filter":"datum.p=='D'"}],"mark":{"type":"rule","strokeWidth":1.5,"color":"#000"},"encoding":{"x":{"field":"x1","type":"quantitative"},"x2":{"field":"x2"},"y":{"field":"y","type":"quantitative"}}},
 {"data":{"name":"br"},"transform":[{"filter":"datum.p=='D'"}],"mark":{"type":"rule","strokeWidth":1.5,"color":"#000"},"encoding":{"x":{"field":"x1","type":"quantitative"},"y":{"field":"y","type":"quantitative"},"y2":{"field":"yl"}}},
 {"data":{"name":"br"},"transform":[{"filter":"datum.p=='D'"}],"mark":{"type":"rule","strokeWidth":1.5,"color":"#000"},"encoding":{"x":{"field":"x2","type":"quantitative"},"y":{"field":"y","type":"quantitative"},"y2":{"field":"yr"}}},
 {"data":{"name":"br"},"transform":[{"filter":"datum.p=='D'"},{"calculate":"(datum.x1+datum.x2)/2","as":"xm"}],"mark":{"type":"text","fontSize":12,"baseline":"middle","dy":-7,"color":"#000"},"encoding":{"x":{"field":"xm","type":"quantitative"},"y":{"field":"y","type":"quantitative"},"text":{"field":"t"}}},
 {"data":{"name":"gl"},"transform":[{"filter":"datum.p=='D'"}],"mark":{"type":"rule","strokeWidth":1.5,"color":"#000"},"encoding":{"x":{"field":"x1","type":"quantitative"},"x2":{"field":"x2"},"y":{"datum":-1.22}}},
 {"data":{"name":"gl"},"transform":[{"filter":"datum.p=='D'"},{"calculate":"(datum.x1+datum.x2)/2","as":"xm"}],"mark":{"type":"text","fontSize":13,"baseline":"middle","color":"#000"},"encoding":{"x":{"field":"xm","type":"quantitative"},"y":{"datum":-2.7},"text":{"field":"t"}}},
 {"data":{"values":[{"t":"NT"}]},"mark":{"type":"text","fontSize":12.5,"fontWeight":"bold","baseline":"middle"},"encoding":{"x":{"datum":1.77},"y":{"datum":21.6},"text":{"field":"t"}}},
 {"data":{"values":[{"t":"IdU"}]},"mark":{"type":"text","fontSize":13,"angle":270,"align":"left","baseline":"middle","color":"#1f9e5a"},"encoding":{"x":{"datum":-0.54},"y":{"datum":2.44},"text":{"field":"t"}}},
 {"data":{"values":[{"t":"tract length (µm)"}]},"mark":{"type":"text","fontSize":13,"angle":270,"align":"left","baseline":"middle","color":"#000"},"encoding":{"x":{"datum":-0.54},"y":{"datum":5.37},"text":{"field":"t"}}}
]},
{"layer":[
 {"data":{"name":"sw"},"transform":[{"filter":"datum.p=='E'"}],"mark":{"type":"tick","orient":"horizontal","thickness":4.6,"opacity":1},
  "encoding":{"x":{"field":"x","type":"quantitative","scale":{"domain":[0.31,5.035],"range":[580,758],"nice":false,"zero":false},"axis":{"orient":"bottom","offset":-413,"values":[1,2,3,4],"labels":false,"title":"E","titleX":547,"titleY":-170,"titleAlign":"left","titleBaseline":"alphabetic","titleAngle":0,"titleFontSize":17,"titleFontWeight":"bold"}},
   "y":{"field":"y","type":"quantitative","scale":{"domain":[0,20],"range":[270,108],"nice":false,"zero":false},"axis":{"orient":"left","offset":-580,"values":[0,5,10,15,20],"format":"d","labelExpr":"datum.value % 10 == 0 ? datum.label : ''","title":null}},
   "size":{"field":"n","type":"quantitative","scale":{"domain":[0,1],"range":[0,30]},"legend":null},
   "color":{"condition":{"test":"datum.s=='a'","value":"#000000"},"value":"#9e9e9e"}}},
 {"data":{"name":"pt"},"transform":[{"filter":"datum.p=='E'"}],"mark":{"type":"point","filled":false,"size":14,"strokeWidth":1,"opacity":1},
  "encoding":{"x":{"field":"x","type":"quantitative"},"y":{"field":"y","type":"quantitative"},"color":{"field":"s","type":"nominal","scale":{"domain":["a","b"],"range":["#000000","#9e9e9e"]},"legend":{"orient":"none","legendX":727,"legendY":93.5,"title":null,"labelExpr":"datum.label == 'a' ? '– S1' : '+ S1'"}}}},
 {"data":{"name":"md"},"transform":[{"filter":"datum.p=='E'"}],"mark":{"type":"tick","orient":"horizontal","thickness":4.5,"size":31,"color":"#ee1f1f","opacity":1},"encoding":{"x":{"field":"x","type":"quantitative"},"y":{"field":"m","type":"quantitative"}}},
 {"data":{"name":"md"},"transform":[{"filter":"datum.p=='E'"}],"mark":{"type":"text","color":"#e8432e","fontSize":13,"baseline":"top","dy":3},"encoding":{"x":{"field":"x","type":"quantitative"},"y":{"field":"lo","type":"quantitative"},"text":{"field":"lab"}}},
 {"data":{"name":"br"},"transform":[{"filter":"datum.p=='E'"}],"mark":{"type":"rule","strokeWidth":1.5,"color":"#000"},"encoding":{"x":{"field":"x1","type":"quantitative"},"x2":{"field":"x2"},"y":{"field":"y","type":"quantitative"}}},
 {"data":{"name":"br"},"transform":[{"filter":"datum.p=='E'"}],"mark":{"type":"rule","strokeWidth":1.5,"color":"#000"},"encoding":{"x":{"field":"x1","type":"quantitative"},"y":{"field":"y","type":"quantitative"},"y2":{"field":"yl"}}},
 {"data":{"name":"br"},"transform":[{"filter":"datum.p=='E'"}],"mark":{"type":"rule","strokeWidth":1.5,"color":"#000"},"encoding":{"x":{"field":"x2","type":"quantitative"},"y":{"field":"y","type":"quantitative"},"y2":{"field":"yr"}}},
 {"data":{"name":"br"},"transform":[{"filter":"datum.p=='E'"},{"calculate":"(datum.x1+datum.x2)/2","as":"xm"}],"mark":{"type":"text","fontSize":12,"baseline":"middle","dy":-7,"color":"#000"},"encoding":{"x":{"field":"xm","type":"quantitative"},"y":{"field":"y","type":"quantitative"},"text":{"field":"t"}}},
 {"data":{"name":"gl"},"transform":[{"filter":"datum.p=='E'"}],"mark":{"type":"rule","strokeWidth":1.5,"color":"#000"},"encoding":{"x":{"field":"x1","type":"quantitative"},"x2":{"field":"x2"},"y":{"datum":-1.23}}},
 {"data":{"name":"gl"},"transform":[{"filter":"datum.p=='E'"},{"calculate":"(datum.x1+datum.x2)/2","as":"xm"}],"mark":{"type":"text","fontSize":13,"baseline":"middle","color":"#000"},"encoding":{"x":{"field":"xm","type":"quantitative"},"y":{"datum":-2.72},"text":{"field":"t"}}},
 {"data":{"values":[{"t":"Olaparib"}]},"mark":{"type":"text","fontSize":12.5,"fontWeight":"bold","baseline":"middle"},"encoding":{"x":{"datum":2.19},"y":{"datum":21.6},"text":{"field":"t"}}},
 {"data":{"values":[{"t":"IdU"}]},"mark":{"type":"text","fontSize":13,"angle":270,"align":"left","baseline":"middle","color":"#1f9e5a"},"encoding":{"x":{"datum":-0.354},"y":{"datum":2.47},"text":{"field":"t"}}},
 {"data":{"values":[{"t":"tract length (µm)"}]},"mark":{"type":"text","fontSize":13,"angle":270,"align":"left","baseline":"middle","color":"#000"},"encoding":{"x":{"datum":-0.354},"y":{"datum":5.43},"text":{"field":"t"}}}
]},
{"layer":[
 {"data":{"name":"sw"},"transform":[{"filter":"datum.p=='F'"}],"mark":{"type":"tick","orient":"horizontal","thickness":4.6,"opacity":1},
  "encoding":{"x":{"field":"x","type":"quantitative","scale":{"domain":[0.353,4.647],"range":[356,522],"nice":false,"zero":false},"axis":{"orient":"bottom","offset":-147,"values":[1,2,3,4],"labels":false,"title":"F","titleX":307,"titleY":-170,"titleAlign":"left","titleBaseline":"alphabetic","titleAngle":0,"titleFontSize":17,"titleFontWeight":"bold"}},
   "y":{"field":"y","type":"quantitative","scale":{"domain":[0,20],"range":[536,370],"nice":false,"zero":false},"axis":{"orient":"left","offset":-356,"values":[0,5,10,15,20],"format":"d","labelExpr":"datum.value % 10 == 0 ? datum.label : ''","title":null}},
   "size":{"field":"n","type":"quantitative","scale":{"domain":[0,1],"range":[0,30]},"legend":null},
   "color":{"condition":{"test":"datum.s=='a'","value":"#000000"},"value":"#9e9e9e"}}},
 {"data":{"name":"pt"},"transform":[{"filter":"datum.p=='F'"}],"mark":{"type":"point","filled":false,"size":14,"strokeWidth":1,"opacity":1},
  "encoding":{"x":{"field":"x","type":"quantitative"},"y":{"field":"y","type":"quantitative"},"color":{"field":"s","type":"nominal","scale":{"domain":["a","b"],"range":["#000000","#9e9e9e"]},"legend":{"orient":"none","legendX":487,"legendY":352.5,"title":null,"labelExpr":"datum.label == 'a' ? '– S1' : '+ S1'"}}}},
 {"data":{"name":"md"},"transform":[{"filter":"datum.p=='F'"}],"mark":{"type":"tick","orient":"horizontal","thickness":4.5,"size":31,"color":"#ee1f1f","opacity":1},"encoding":{"x":{"field":"x","type":"quantitative"},"y":{"field":"m","type":"quantitative"}}},
 {"data":{"name":"md"},"transform":[{"filter":"datum.p=='F'"}],"mark":{"type":"text","color":"#e8432e","fontSize":13,"baseline":"top","dy":5},"encoding":{"x":{"field":"x","type":"quantitative"},"y":{"field":"lo","type":"quantitative"},"text":{"field":"lab"}}},
 {"data":{"name":"br"},"transform":[{"filter":"datum.p=='F'"}],"mark":{"type":"rule","strokeWidth":1.5,"color":"#000"},"encoding":{"x":{"field":"x1","type":"quantitative"},"x2":{"field":"x2"},"y":{"field":"y","type":"quantitative"}}},
 {"data":{"name":"br"},"transform":[{"filter":"datum.p=='F'"}],"mark":{"type":"rule","strokeWidth":1.5,"color":"#000"},"encoding":{"x":{"field":"x1","type":"quantitative"},"y":{"field":"y","type":"quantitative"},"y2":{"field":"yl"}}},
 {"data":{"name":"br"},"transform":[{"filter":"datum.p=='F'"}],"mark":{"type":"rule","strokeWidth":1.5,"color":"#000"},"encoding":{"x":{"field":"x2","type":"quantitative"},"y":{"field":"y","type":"quantitative"},"y2":{"field":"yr"}}},
 {"data":{"name":"br"},"transform":[{"filter":"datum.p=='F'"},{"calculate":"(datum.x1+datum.x2)/2","as":"xm"}],"mark":{"type":"text","fontSize":12,"baseline":"middle","dy":-7,"color":"#000"},"encoding":{"x":{"field":"xm","type":"quantitative"},"y":{"field":"y","type":"quantitative"},"text":{"field":"t"}}},
 {"data":{"name":"gl"},"transform":[{"filter":"datum.p=='F'"}],"mark":{"type":"rule","strokeWidth":1.5,"color":"#000"},"encoding":{"x":{"field":"x1","type":"quantitative"},"x2":{"field":"x2"},"y":{"datum":-1.33}}},
 {"data":{"name":"gl"},"transform":[{"filter":"datum.p=='F'"},{"calculate":"(datum.x1+datum.x2)/2","as":"xm"}],"mark":{"type":"text","fontSize":13,"baseline":"middle","color":"#000"},"encoding":{"x":{"field":"xm","type":"quantitative"},"y":{"datum":-2.65},"text":{"field":"t"}}},
 {"data":{"values":[{"t":"NT"}]},"mark":{"type":"text","fontSize":12.5,"fontWeight":"bold","baseline":"middle"},"encoding":{"x":{"datum":1.72},"y":{"datum":21.4},"text":{"field":"t"}}},
 {"data":{"values":[{"t":"IdU"}]},"mark":{"type":"text","fontSize":13,"angle":270,"align":"left","baseline":"middle","color":"#1f9e5a"},"encoding":{"x":{"datum":-0.397},"y":{"datum":3.5},"text":{"field":"t"}}},
 {"data":{"values":[{"t":"tract length (µm)"}]},"mark":{"type":"text","fontSize":13,"angle":270,"align":"left","baseline":"middle","color":"#000"},"encoding":{"x":{"datum":-0.397},"y":{"datum":6.4},"text":{"field":"t"}}}
]},
{"layer":[
 {"data":{"name":"sw"},"transform":[{"filter":"datum.p=='G'"}],"mark":{"type":"tick","orient":"horizontal","thickness":4.6,"opacity":1},
  "encoding":{"x":{"field":"x","type":"quantitative","scale":{"domain":[0.374,4.626],"range":[585,748],"nice":false,"zero":false},"axis":{"orient":"bottom","offset":-147,"values":[1,2,3,4],"labels":false,"title":"G","titleX":547,"titleY":-170,"titleAlign":"left","titleBaseline":"alphabetic","titleAngle":0,"titleFontSize":17,"titleFontWeight":"bold"}},
   "y":{"field":"y","type":"quantitative","scale":{"domain":[0,20],"range":[536,370],"nice":false,"zero":false},"axis":{"orient":"left","offset":-585,"values":[0,5,10,15,20],"format":"d","labelExpr":"datum.value % 10 == 0 ? datum.label : ''","title":null}},
   "size":{"field":"n","type":"quantitative","scale":{"domain":[0,1],"range":[0,30]},"legend":null},
   "color":{"condition":{"test":"datum.s=='a'","value":"#000000"},"value":"#9e9e9e"}}},
 {"data":{"name":"pt"},"transform":[{"filter":"datum.p=='G'"}],"mark":{"type":"point","filled":false,"size":14,"strokeWidth":1,"opacity":1},
  "encoding":{"x":{"field":"x","type":"quantitative"},"y":{"field":"y","type":"quantitative"},"color":{"field":"s","type":"nominal","scale":{"domain":["a","b"],"range":["#000000","#9e9e9e"]},"legend":{"orient":"none","legendX":727,"legendY":352.5,"title":null,"labelExpr":"datum.label == 'a' ? '– S1' : '+ S1'"}}}},
 {"data":{"name":"md"},"transform":[{"filter":"datum.p=='G'"}],"mark":{"type":"tick","orient":"horizontal","thickness":4.5,"size":31,"color":"#ee1f1f","opacity":1},"encoding":{"x":{"field":"x","type":"quantitative"},"y":{"field":"m","type":"quantitative"}}},
 {"data":{"name":"md"},"transform":[{"filter":"datum.p=='G'"}],"mark":{"type":"text","color":"#e8432e","fontSize":13,"baseline":"top","dy":6},"encoding":{"x":{"field":"x","type":"quantitative"},"y":{"field":"lo","type":"quantitative"},"text":{"field":"lab"}}},
 {"data":{"name":"br"},"transform":[{"filter":"datum.p=='G'"}],"mark":{"type":"rule","strokeWidth":1.5,"color":"#000"},"encoding":{"x":{"field":"x1","type":"quantitative"},"x2":{"field":"x2"},"y":{"field":"y","type":"quantitative"}}},
 {"data":{"name":"br"},"transform":[{"filter":"datum.p=='G'"}],"mark":{"type":"rule","strokeWidth":1.5,"color":"#000"},"encoding":{"x":{"field":"x1","type":"quantitative"},"y":{"field":"y","type":"quantitative"},"y2":{"field":"yl"}}},
 {"data":{"name":"br"},"transform":[{"filter":"datum.p=='G'"}],"mark":{"type":"rule","strokeWidth":1.5,"color":"#000"},"encoding":{"x":{"field":"x2","type":"quantitative"},"y":{"field":"y","type":"quantitative"},"y2":{"field":"yr"}}},
 {"data":{"name":"br"},"transform":[{"filter":"datum.p=='G'"},{"calculate":"(datum.x1+datum.x2)/2","as":"xm"}],"mark":{"type":"text","fontSize":12,"baseline":"middle","dy":-7,"color":"#000"},"encoding":{"x":{"field":"xm","type":"quantitative"},"y":{"field":"y","type":"quantitative"},"text":{"field":"t"}}},
 {"data":{"name":"gl"},"transform":[{"filter":"datum.p=='G'"}],"mark":{"type":"rule","strokeWidth":1.5,"color":"#000"},"encoding":{"x":{"field":"x1","type":"quantitative"},"x2":{"field":"x2"},"y":{"datum":-1.33}}},
 {"data":{"name":"gl"},"transform":[{"filter":"datum.p=='G'"},{"calculate":"(datum.x1+datum.x2)/2","as":"xm"}],"mark":{"type":"text","fontSize":13,"baseline":"middle","color":"#000"},"encoding":{"x":{"field":"xm","type":"quantitative"},"y":{"datum":-2.65},"text":{"field":"t"}}},
 {"data":{"values":[{"t":"Olaparib"}]},"mark":{"type":"text","fontSize":12.5,"fontWeight":"bold","baseline":"middle"},"encoding":{"x":{"datum":2.1},"y":{"datum":21.4},"text":{"field":"t"}}},
 {"data":{"values":[{"t":"IdU"}]},"mark":{"type":"text","fontSize":13,"angle":270,"align":"left","baseline":"middle","color":"#1f9e5a"},"encoding":{"x":{"datum":-0.409},"y":{"datum":3.5},"text":{"field":"t"}}},
 {"data":{"values":[{"t":"tract length (µm)"}]},"mark":{"type":"text","fontSize":13,"angle":270,"align":"left","baseline":"middle","color":"#000"},"encoding":{"x":{"datum":-0.409},"y":{"datum":6.4},"text":{"field":"t"}}}
]},
{"layer":[
 {"data":{"name":"sw"},"transform":[{"filter":"datum.p=='I'"}],"mark":{"type":"tick","orient":"horizontal","thickness":4.5,"opacity":1},
  "encoding":{"x":{"field":"x","type":"quantitative","scale":{"domain":[0.31,4.66],"range":[68,232],"nice":false,"zero":false},"axis":{"orient":"bottom","offset":-26,"values":[1,2,3,4],"labels":false,"title":"I","titleX":20,"titleY":-184,"titleAlign":"left","titleBaseline":"alphabetic","titleAngle":0,"titleFontSize":17,"titleFontWeight":"bold"}},
   "y":{"field":"y","type":"quantitative","scale":{"domain":[0,20],"range":[657,497],"nice":false,"zero":false},"axis":{"orient":"left","offset":-68,"values":[0,5,10,15,20],"format":"d","labelExpr":"datum.value % 10 == 0 ? datum.label : ''","title":null}},
   "size":{"field":"n","type":"quantitative","scale":{"domain":[0,1],"range":[0,30]},"legend":null},
   "color":{"condition":{"test":"datum.s=='a'","value":"#000000"},"value":"#9e9e9e"}}},
 {"data":{"name":"pt"},"transform":[{"filter":"datum.p=='I'"}],"mark":{"type":"point","filled":false,"size":14,"strokeWidth":1,"opacity":1},
  "encoding":{"x":{"field":"x","type":"quantitative"},"y":{"field":"y","type":"quantitative"},"color":{"field":"s","type":"nominal","scale":{"domain":["a","b"],"range":["#000000","#9e9e9e"]},"legend":{"orient":"none","legendX":213,"legendY":483.5,"title":null,"labelExpr":"datum.label == 'a' ? '– S1' : '+ S1'"}}}},
 {"data":{"name":"md"},"transform":[{"filter":"datum.p=='I'"}],"mark":{"type":"tick","orient":"horizontal","thickness":4.5,"size":31,"color":"#ee1f1f","opacity":1},"encoding":{"x":{"field":"x","type":"quantitative"},"y":{"field":"m","type":"quantitative"}}},
 {"data":{"name":"md"},"transform":[{"filter":"datum.p=='I'"}],"mark":{"type":"text","color":"#e8432e","fontSize":13,"baseline":"top","dy":1},"encoding":{"x":{"field":"x","type":"quantitative"},"y":{"field":"lo","type":"quantitative"},"text":{"field":"lab"}}},
 {"data":{"name":"br"},"transform":[{"filter":"datum.p=='I'"}],"mark":{"type":"rule","strokeWidth":1.5,"color":"#000"},"encoding":{"x":{"field":"x1","type":"quantitative"},"x2":{"field":"x2"},"y":{"field":"y","type":"quantitative"}}},
 {"data":{"name":"br"},"transform":[{"filter":"datum.p=='I'"}],"mark":{"type":"rule","strokeWidth":1.5,"color":"#000"},"encoding":{"x":{"field":"x1","type":"quantitative"},"y":{"field":"y","type":"quantitative"},"y2":{"field":"yl"}}},
 {"data":{"name":"br"},"transform":[{"filter":"datum.p=='I'"}],"mark":{"type":"rule","strokeWidth":1.5,"color":"#000"},"encoding":{"x":{"field":"x2","type":"quantitative"},"y":{"field":"y","type":"quantitative"},"y2":{"field":"yr"}}},
 {"data":{"name":"br"},"transform":[{"filter":"datum.p=='I'"},{"calculate":"(datum.x1+datum.x2)/2","as":"xm"}],"mark":{"type":"text","fontSize":12,"baseline":"middle","dy":-7,"color":"#000"},"encoding":{"x":{"field":"xm","type":"quantitative"},"y":{"field":"y","type":"quantitative"},"text":{"field":"t"}}},
 {"data":{"name":"gl"},"transform":[{"filter":"datum.p=='I'"}],"mark":{"type":"rule","strokeWidth":1.5,"color":"#000"},"encoding":{"x":{"field":"x1","type":"quantitative"},"x2":{"field":"x2"},"y":{"datum":-0.7}}},
 {"data":{"name":"gl"},"transform":[{"filter":"datum.p=='I'"},{"calculate":"(datum.x1+datum.x2)/2","as":"xm"}],"mark":{"type":"text","fontSize":13,"baseline":"middle","color":"#000"},"encoding":{"x":{"field":"xm","type":"quantitative"},"y":{"datum":-2.25},"text":{"field":"t"}}},
 {"data":{"values":[{"t":"25 µM HU"}]},"mark":{"type":"text","fontSize":12.5,"fontWeight":"bold","baseline":"middle"},"encoding":{"x":{"datum":1.96},"y":{"datum":21.75},"text":{"field":"t"}}},
 {"data":{"values":[{"t":"IdU"}]},"mark":{"type":"text","fontSize":13,"angle":270,"align":"left","baseline":"middle","color":"#1f9e5a"},"encoding":{"x":{"datum":-0.433},"y":{"datum":2.5},"text":{"field":"t"}}},
 {"data":{"values":[{"t":"tract length (µm)"}]},"mark":{"type":"text","fontSize":13,"angle":270,"align":"left","baseline":"middle","color":"#000"},"encoding":{"x":{"datum":-0.433},"y":{"datum":5.5},"text":{"field":"t"}}}
]}
]
}
